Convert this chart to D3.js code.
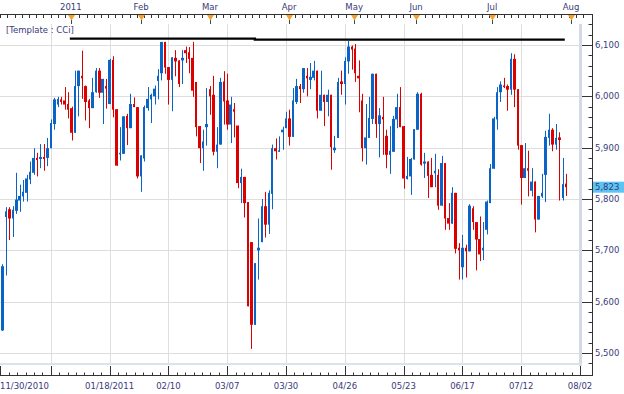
<!DOCTYPE html>
<html>
<head>
<meta charset="utf-8">
<script src="https://cdn.jsdelivr.net/npm/d3@7"></script>
<style>
  body { margin: 0; background: #fff; }
  svg text { font-family: "DejaVu Sans", sans-serif; font-size: 8.5px; fill: #3a3a7a; }
</style>
</head>
<body>
<div id="chart"></div>
<script>
// trading slots: first candle sits on slot 2, one candle per slot
const firstSlot = 2;
const opens = [5599,5544,5765,5780,5762,5777,5797,5805,5812,5838,5851,5880,5878,5882,5880,5899,5946,5984,5994,5992,
  5985,5977,5929,6020,6040,6020,5992,5977,6008,6050,6007,6020,5985,6071,5975,5888,5888,5962,5938,5985,
  5979,5844,5879,5977,5994,6000,6030,6045,6106,6057,6032,6075,6070,6070,6090,6086,6075,6028,5942,5899,
  5940,6014,6003,5892,5906,6029,5992,5945,5975,5943,5831,5843,5794,5716,5555,5700,5716,5786,5750,5810,
  5899,5892,5930,5938,5957,5921,5989,6020,6014,6040,6032,6036,6050,5972,6003,5989,6003,5895,5919,6029,
  6024,6068,6097,6093,6040,5992,5899,5919,5956,6044,5946,5960,5923,5886,5892,5955,5979,5942,5839,5844,
  5877,5935,6005,5869,5873,5847,5850,5847,5787,5870,5763,5752,5812,5705,5667,5705,5698,5782,5755,5722,
  5700,5740,5792,5859,5955,6008,6021,6020,6013,6073,6014,5905,5841,5860,5816,5834,5760,5805,5847,5919,
  5935,5906,5920,5802,5830];
const highs = [5600,5673,5784,5784,5786,5851,5828,5837,5847,5873,5899,5890,5907,5907,5919,5955,5997,5999,5999,6018,
  6008,5980,6050,6050,6089,6021,5995,6036,6055,6055,6034,6034,6073,6078,5975,5940,5961,5966,6005,5998,
  5979,5885,5982,6018,6005,6021,6053,6106,6106,6057,6076,6090,6070,6090,6097,6096,6106,6028,5942,5935,
  6016,6020,6040,5940,6036,6049,6044,5999,5987,5943,5859,5843,5794,5716,5675,5762,5800,5814,5817,5906,
  5918,5922,5941,5970,5974,6016,6034,6024,6055,6055,6065,6069,6050,6050,6003,6013,6003,5923,6036,6050,
  6076,6108,6099,6102,6070,6005,5985,5999,6044,6044,5977,5999,5935,5942,5962,6005,6018,5942,5882,5880,
  5936,6008,6007,5890,5873,5880,5888,5858,5884,5870,5792,5823,5812,5714,5730,5711,5790,5786,5755,5766,
  5755,5797,5868,5960,6018,6029,6036,6023,6084,6082,6014,5905,5909,5894,5860,5834,5806,5849,5933,5966,
  5938,5946,5930,5880,5849];
const lows = [5543,5543,5651,5720,5726,5771,5775,5795,5795,5829,5847,5844,5860,5855,5864,5899,5935,5979,5984,5974,
  5957,5914,5929,5961,5995,5953,5938,5977,6007,5997,5946,5976,5985,5959,5865,5875,5888,5905,5938,5979,
  5840,5814,5873,5972,5948,5984,5994,6031,6044,5984,5971,6039,6018,6024,6065,6045,5999,5922,5870,5855,
  5904,5964,5885,5860,5906,5945,5935,5909,5920,5821,5792,5764,5591,5508,5555,5643,5716,5725,5732,5780,
  5877,5892,5896,5938,5904,5921,5985,5987,6007,6000,6014,6031,5957,5972,5942,5961,5857,5890,5919,6003,
  5984,6044,6052,6028,5969,5873,5867,5919,5946,5919,5881,5886,5860,5849,5892,5938,5940,5820,5838,5808,
  5877,5935,5865,5841,5802,5823,5823,5779,5787,5740,5740,5752,5694,5643,5643,5647,5698,5740,5661,5679,
  5681,5731,5792,5859,5935,5989,6016,5972,6003,5979,5896,5789,5841,5805,5805,5735,5760,5802,5794,5904,
  5893,5896,5797,5797,5806];
const closes = [5544,5669,5776,5762,5779,5799,5806,5814,5840,5853,5880,5876,5882,5878,5899,5948,5994,5995,5989,5984,
  5974,5929,6020,6050,6035,5989,5977,6008,6050,6007,6034,6015,6071,5974,5865,5890,5961,5938,5985,5979,
  5844,5885,5979,5995,6003,6015,6040,6106,6056,6032,6076,6068,6024,6075,6084,6073,6011,5940,5899,5912,
  5946,6000,5892,5906,6028,5990,5945,5984,5970,5831,5843,5792,5591,5555,5675,5705,5786,5750,5812,5899,
  5893,5895,5935,5957,5921,5992,6020,6014,6055,6035,6038,6050,5972,6003,5989,6003,5901,5900,6028,6024,
  6069,6097,6091,6045,6035,5899,5920,5958,6044,5946,5963,5955,5886,5894,5956,5979,5940,5840,5845,5878,
  5936,6005,5867,5873,5845,5823,5855,5787,5870,5762,5752,5812,5703,5700,5705,5698,5787,5755,5721,5692,
  5705,5795,5860,5957,6008,6023,6018,6013,6073,6013,5904,5841,5860,5855,5834,5760,5806,5812,5921,5935,
  5906,5919,5915,5829,5823];

const priceTicks = [5500, 5600, 5700, 5800, 5900, 6000, 6100];
const dateSlots = [0, 17, 34, 51, 68, 85, 102, 119, 136, 153, 170];
const dateLabels = ["11/30/2010", "", "01/18/2011", "02/10", "03/07", "03/30", "04/26", "05/23", "06/17", "07/12", "08/02"];
const monthSlots = [22.8, 43.1, 63.0, 85.9, 104.7, 122.6, 144.6, 167.4];
const monthLabels = ["2011", "Feb", "Mar", "Apr", "May", "Jun", "Jul", "Aug"];
const lineSlots = [22.5, 76, 76, 165.6];
const linePrices = [6112.5, 6112.5, 6110.5, 6110.5];
const lastPrice = 5823;

const width = 624, height = 394;
const plotL = 0, plotR = 579, plotT = 24, plotB = 363;
const axisX = 592.5, topY = 14.5, botY = 375.5;
const upColor = "#0a64c8", downColor = "#dd0000";

const candles = opens.map((o, i) => ({
  s: firstSlot + i, o: o, h: highs[i], l: lows[i], c: closes[i]
}));

const x = d3.scaleLinear().domain([0, 170]).range([-8, 580]);
const y = d3.scaleLinear().domain([5500, 6100]).range([353, 45]);

const svg = d3.select("#chart").append("svg")
    .attr("width", width)
    .attr("height", height);

svg.append("defs").append("clipPath").attr("id", "plot")
  .append("rect")
    .attr("x", plotL).attr("y", plotT)
    .attr("width", plotR - plotL).attr("height", plotB - plotT);

// grid
const grid = svg.append("g").attr("stroke", "#dedede").attr("stroke-width", 1);
grid.selectAll(".vg")
    .data(dateSlots.filter(s => x(s) > 0 && x(s) < plotR))
  .enter().append("line")
    .attr("x1", d => Math.round(x(d)) + 0.5).attr("x2", d => Math.round(x(d)) + 0.5)
    .attr("y1", plotT).attr("y2", plotB);
grid.selectAll(".hg")
    .data(priceTicks)
  .enter().append("line")
    .attr("x1", plotL).attr("x2", plotR)
    .attr("y1", d => Math.round(y(d)) + 0.5).attr("y2", d => Math.round(y(d)) + 0.5);

// plot border (shadow on right and bottom)
svg.append("rect").attr("x", plotR).attr("y", plotT).attr("width", 3).attr("height", plotB - plotT + 3)
    .attr("fill", "#d3dae3");
svg.append("rect").attr("x", plotL).attr("y", plotB).attr("width", plotR - plotL + 3).attr("height", 2)
    .attr("fill", "#dde2e8");

// candles
const cg = svg.append("g").attr("clip-path", "url(#plot)");
const candle = cg.selectAll(".candle")
    .data(candles)
  .enter().append("g")
    .attr("fill", d => d.c >= d.o ? upColor : downColor)
    .attr("stroke", d => d.c >= d.o ? upColor : downColor);

candle.append("line")
    .attr("stroke-width", 1)
    .attr("x1", d => Math.round(x(d.s)) + 0.5)
    .attr("x2", d => Math.round(x(d.s)) + 0.5)
    .attr("y1", d => y(d.h))
    .attr("y2", d => y(d.l));

candle.append("rect")
    .attr("stroke", "none")
    .attr("x", d => Math.round(x(d.s) - 1.2))
    .attr("width", d => Math.round(x(d.s) + 1.3) - Math.round(x(d.s) - 1.2))
    .attr("y", d => y(Math.max(d.o, d.c)))
    .attr("height", d => Math.max(1.5, y(Math.min(d.o, d.c)) - y(Math.max(d.o, d.c))));

// trend line
const trend = lineSlots.map((s, i) => [s, linePrices[i]]);
svg.append("path")
    .datum(trend)
    .attr("fill", "none")
    .attr("stroke", "#000")
    .attr("stroke-width", 2.4)
    .attr("d", d3.line().x(d => x(d[0])).y(d => y(d[1])));

svg.append("text")
    .attr("x", 6).attr("y", 33)
    .attr("fill", "#4a4a8a")
    .text("[Template : CCi]");

// top axis
const topAxis = svg.append("g").attr("stroke", "#333");
topAxis.append("line").attr("x1", 0).attr("x2", axisX + 0.5).attr("y1", topY).attr("y2", topY);
topAxis.selectAll(".tt")
    .data(d3.range(0, 172, 2.08))
  .enter().append("line")
    .attr("x1", d => Math.round(x(d)) + 1.5).attr("x2", d => Math.round(x(d)) + 1.5)
    .attr("y1", topY).attr("y2", topY + 3.5);

const marks = svg.append("g").selectAll(".mk")
    .data(monthSlots)
  .enter().append("g")
    .attr("transform", d => "translate(" + (Math.round(x(d)) + 0.5) + ",0)");
marks.append("line")
    .attr("y1", 18).attr("y2", 24)
    .attr("stroke", "#444");
marks.append("path")
    .attr("d", "M-3.5,15L3.5,15L0,20.5Z")
    .attr("fill", "#f4a22c");
svg.selectAll(".ml")
    .data(monthSlots)
  .enter().append("text")
    .attr("x", d => x(d))
    .attr("y", 10)
    .attr("text-anchor", "middle")
    .text((d, i) => monthLabels[i]);

// bottom axis
const botAxis = svg.append("g").attr("stroke", "#333");
botAxis.append("line").attr("x1", 0).attr("x2", axisX + 0.5).attr("y1", botY).attr("y2", botY);
botAxis.selectAll(".bmin")
    .data(d3.range(0, 171, 17 / 7))
  .enter().append("line")
    .attr("x1", d => Math.round(x(d)) + 0.5).attr("x2", d => Math.round(x(d)) + 0.5)
    .attr("y1", botY - 3).attr("y2", botY);
botAxis.selectAll(".bmaj")
    .data(dateSlots)
  .enter().append("line")
    .attr("x1", d => Math.round(x(d)) + 0.5).attr("x2", d => Math.round(x(d)) + 0.5)
    .attr("y1", botY - 9.5).attr("y2", botY);
botAxis.append("line").attr("x1", 0.5).attr("x2", 0.5).attr("y1", botY - 9.5).attr("y2", botY);

svg.selectAll(".dl")
    .data(dateSlots)
  .enter().append("text")
    .attr("x", d => x(d) < 30 ? 0 : x(d))
    .attr("y", 389)
    .attr("text-anchor", d => x(d) < 30 ? "start" : "middle")
    .text((d, i) => dateLabels[i]);

// right axis
const rightAxis = svg.append("g").attr("stroke", "#333");
rightAxis.append("line").attr("x1", axisX).attr("x2", axisX).attr("y1", topY - 0.5).attr("y2", botY + 0.5);
rightAxis.selectAll(".rmin")
    .data(d3.range(5480, 6141, 20))
  .enter().append("line")
    .attr("x1", axisX - 4).attr("x2", axisX)
    .attr("y1", d => Math.round(y(d)) + 0.5).attr("y2", d => Math.round(y(d)) + 0.5);
rightAxis.selectAll(".rmaj")
    .data(priceTicks)
  .enter().append("line")
    .attr("x1", plotR + 3).attr("x2", axisX)
    .attr("y1", d => Math.round(y(d)) + 0.5).attr("y2", d => Math.round(y(d)) + 0.5);

svg.selectAll(".pl")
    .data(priceTicks)
  .enter().append("text")
    .attr("x", 595)
    .attr("y", d => y(d))
    .attr("dy", "0.35em")
    .text(d => d3.format(",")(d));

// last price tag
svg.append("rect")
    .attr("x", axisX + 0.5).attr("y", y(lastPrice) - 5.5)
    .attr("width", width - axisX).attr("height", 11)
    .attr("fill", "#5cc4f2");
svg.append("text")
    .attr("x", 595).attr("y", y(lastPrice)).attr("dy", "0.35em")
    .attr("fill", "#10103a")
    .text(d3.format(",")(lastPrice));
</script>
</body>
</html>
